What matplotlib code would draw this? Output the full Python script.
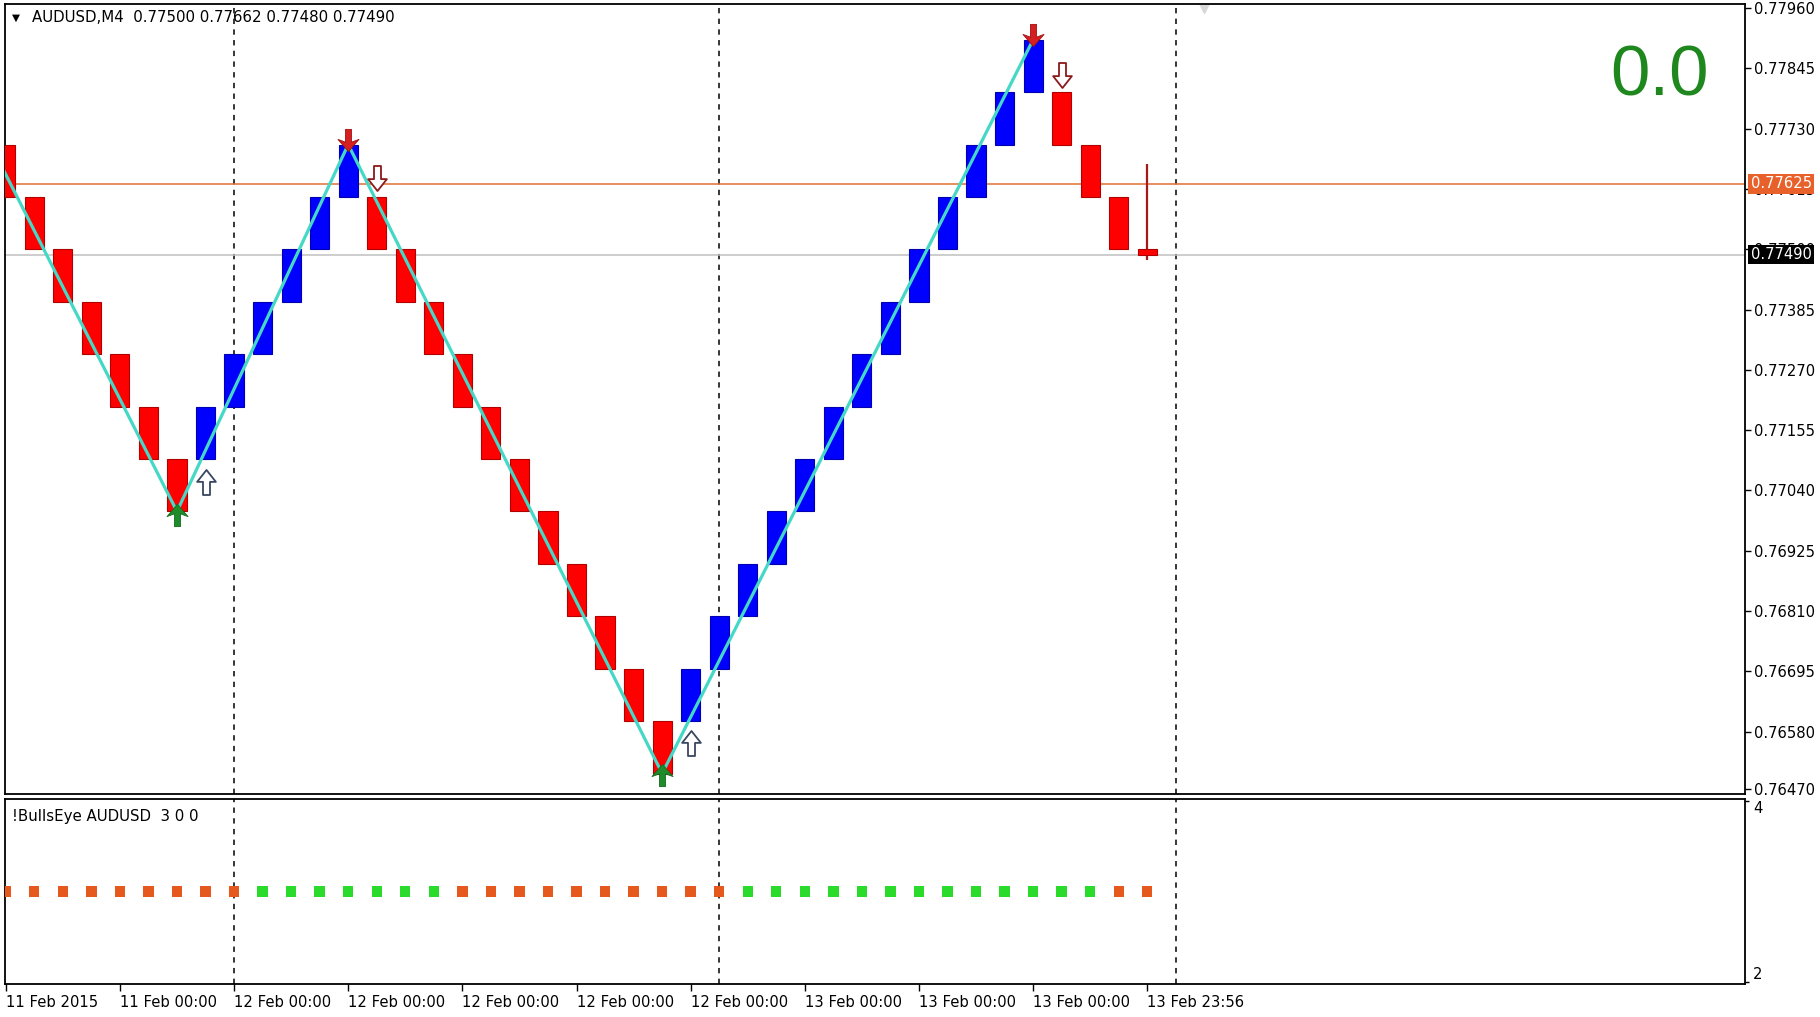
import numpy as np
import matplotlib
matplotlib.use('Agg')
import matplotlib.pyplot as plt
from matplotlib.path import Path
from matplotlib.transforms import blended_transform_factory

# renko bricks (10 pip box)
brick_open = [0.7770, 0.7760, 0.7750, 0.7740, 0.7730, 0.7720, 0.7710,
              0.7710, 0.7720, 0.7730, 0.7740, 0.7750, 0.7760,
              0.7760, 0.7750, 0.7740, 0.7730, 0.7720, 0.7710, 0.7700, 0.7690, 0.7680, 0.7670, 0.7660,
              0.7660, 0.7670, 0.7680, 0.7690, 0.7700, 0.7710, 0.7720, 0.7730, 0.7740, 0.7750, 0.7760, 0.7770, 0.7780,
              0.7780, 0.7770, 0.7760]
brick_close = [0.7760, 0.7750, 0.7740, 0.7730, 0.7720, 0.7710, 0.7700,
               0.7720, 0.7730, 0.7740, 0.7750, 0.7760, 0.7770,
               0.7750, 0.7740, 0.7730, 0.7720, 0.7710, 0.7700, 0.7690, 0.7680, 0.7670, 0.7660, 0.7650,
               0.7670, 0.7680, 0.7690, 0.7700, 0.7710, 0.7720, 0.7730, 0.7740, 0.7750, 0.7760, 0.7770, 0.7780, 0.7790,
               0.7770, 0.7760, 0.7750]

# forming bar (O H L C from the header)
cur_open, cur_high, cur_low, cur_close = 0.77500, 0.77662, 0.77480, 0.77490
bid_line = 0.77625

# zigzag vertices (bar index, price)
zz_idx = [-1, 6, 12, 23, 36]
zz_price = [0.7775, 0.7700, 0.7770, 0.7650, 0.7790]

# signal arrows
peak_up_idx, peak_up_price = [6, 23], [0.76993, 0.76498]
peak_dn_idx, peak_dn_price = [12, 36], [0.77708, 0.77908]
hollow_up_idx, hollow_up_price = [7, 24], [0.77057, 0.76558]
hollow_dn_idx, hollow_dn_price = [13, 37], [0.77636, 0.77833]

# BullsEye indicator: 1 = up (green), 0 = down (orange)
bull_state = [0, 0, 0, 0, 0, 0, 0, 0, 0,
              1, 1, 1, 1, 1, 1, 1,
              0, 0, 0, 0, 0, 0, 0, 0, 0, 0,
              1, 1, 1, 1, 1, 1, 1, 1, 1, 1, 1, 1, 1,
              0, 0]
bull_level = 3

price_ticks = [0.77960, 0.77845, 0.77730, 0.77615, 0.77500, 0.77385, 0.77270,
               0.77155, 0.77040, 0.76925, 0.76810, 0.76695, 0.76580, 0.76470]
time_ticks = [0, 4, 8, 12, 16, 20, 24, 28, 32, 36, 40]
time_labels = ['11 Feb 2015', '11 Feb 00:00', '12 Feb 00:00', '12 Feb 00:00', '12 Feb 00:00',
               '12 Feb 00:00', '12 Feb 00:00', '13 Feb 00:00', '13 Feb 00:00', '13 Feb 00:00',
               '13 Feb 23:56']
separators = [8, 25, 41]
shift_idx = 42

plt.rcParams['font.family'] = ['DejaVu Sans']
FS = 10.6

W, H = 1820, 1017
fig = plt.figure(figsize=(W / 100, H / 100), dpi=100)
left, right = 4.6 / W, 1744.6 / W
ax = fig.add_axes([left, 1 - 794 / H, right - left, (794 - 3.5) / H])
ax2 = fig.add_axes([left, 1 - 984 / H, right - left, (984 - 798.5) / H], sharex=ax)

for a in (ax, ax2):
    for s in a.spines.values():
        s.set_color('black')
        s.set_linewidth(1.3)
    for sx in separators:
        a.axvline(sx, color='black', lw=1.1, ls=(0, (3.5, 3.5)), zorder=1)

ax.set_xlim(-0.04, 60.93)
ax.set_ylim(0.764609, 0.77969)

# bricks
o = np.array(brick_open)
c = np.array(brick_close)
x = np.arange(len(o))
up = c > o
fc = np.where(up, '#0000FF', '#FF0000')
ec = np.where(up, '#0000B0', '#B00000')
ax.bar(x, c - o, bottom=o, width=0.67, color=fc, edgecolor=ec, linewidth=0.8, zorder=3)

cur_idx = len(o)
ax.vlines(cur_idx, cur_low, cur_high, color='#A81818', lw=1.6, zorder=3)
ax.bar(cur_idx, cur_close - cur_open, bottom=cur_open, width=0.67,
       color='#FF0000', edgecolor='#B00000', linewidth=0.8, zorder=3)

ax.axhline(bid_line, color='#E07030', lw=1.1, zorder=2)
ax.axhline(cur_close, color='#C0C0C0', lw=1.1, zorder=2)

ax.plot(zz_idx, zz_price, color='#45D8C6', lw=2.3, zorder=4, solid_capstyle='round')

# arrow markers
hollow_up = Path([(-0.28, -1), (0.28, -1), (0.28, 0.05), (0.75, 0.05), (0, 1),
                  (-0.75, 0.05), (-0.28, 0.05), (-0.28, -1)], closed=True)
hollow_dn = Path([(vx, -vy) for vx, vy in hollow_up.vertices], closed=True)
solid_up = Path([(0, 1), (0.95, -0.1), (0.27, 0.15), (0.27, -1), (-0.27, -1),
                 (-0.27, 0.15), (-0.95, -0.1), (0, 1)], closed=True)
solid_dn = Path([(vx, -vy) for vx, vy in solid_up.vertices], closed=True)

ax.plot(peak_up_idx, peak_up_price, ls='none', marker=solid_up, ms=16,
        mfc='#1E8C2A', mec='#146B1E', mew=0.6, zorder=5)
ax.plot(peak_dn_idx, peak_dn_price, ls='none', marker=solid_dn, ms=16,
        mfc='#D42020', mec='#A01010', mew=0.6, zorder=5)
ax.plot(hollow_up_idx, hollow_up_price, ls='none', marker=hollow_up, ms=18,
        mfc='white', mec='#3A4660', mew=1.3, zorder=5)
ax.plot(hollow_dn_idx, hollow_dn_price, ls='none', marker=hollow_dn, ms=18,
        mfc='white', mec='#8B1A1A', mew=1.3, zorder=5)

ax.plot(shift_idx, 0.77962, ls='none', marker='v', ms=9, color='#D8D8D8', zorder=2)

# price axis
ax.yaxis.tick_right()
ax.set_yticks(price_ticks)
ax.set_yticklabels(['%.5f' % p for p in price_ticks])
ax.tick_params(axis='y', direction='out', length=4, width=1, pad=3, labelsize=FS)
ax.tick_params(axis='x', bottom=False, labelbottom=False)

tr = blended_transform_factory(ax.transAxes, ax.transData)
ax.text(1.0035, bid_line, '%.5f' % bid_line, transform=tr, color='white', fontsize=FS,
        ha='left', va='center', zorder=10, clip_on=False,
        bbox=dict(boxstyle='square,pad=0.15', fc='#E8612A', ec='none'))
ax.text(1.0035, cur_close, '%.5f' % cur_close, transform=tr, color='white', fontsize=FS,
        ha='left', va='center', zorder=10, clip_on=False,
        bbox=dict(boxstyle='square,pad=0.15', fc='black', ec='none'))

ax.text(0.0045, 0.982, u'\u25BC', transform=ax.transAxes, fontsize=7.5, va='center', ha='left')
ax.text(0.0158, 0.982, 'AUDUSD,M4  %.5f %.5f %.5f %.5f' % (cur_open, cur_high, cur_low, cur_close),
        transform=ax.transAxes, fontsize=10.8, va='center', ha='left')
ax.text(0.951, 0.906, '0.0', transform=ax.transAxes, fontsize=51, color='#1E881E',
        family='Liberation Sans', va='center', ha='center')

# indicator panel
bx = np.arange(len(bull_state))
bcol = np.where(np.array(bull_state) == 1, '#2BDB2B', '#E5581E')
ax2.scatter(bx, [bull_level] * len(bx), marker='s', s=56, c=bcol, linewidths=0, zorder=3)
ax2.set_ylim(1.978, 4.024)
ax2.yaxis.tick_right()
ax2.set_yticks([2, 4])
ax2.set_yticklabels(['2', '4'])
ax2.tick_params(axis='y', direction='out', length=3, width=1, pad=3, labelsize=FS)
lbls = ax2.get_yticklabels()
lbls[0].set_va('bottom')
lbls[1].set_va('top')
ax2.text(0.004, 0.905, '!BullsEye AUDUSD  3 0 0', transform=ax2.transAxes, fontsize=10.8,
         va='center', ha='left')

ax2.set_xticks(time_ticks)
ax2.set_xticklabels(time_labels, ha='left')
ax2.tick_params(axis='x', direction='out', length=5, width=1, pad=3, labelsize=FS)

fig.savefig('out.png', dpi=100, facecolor='white')
